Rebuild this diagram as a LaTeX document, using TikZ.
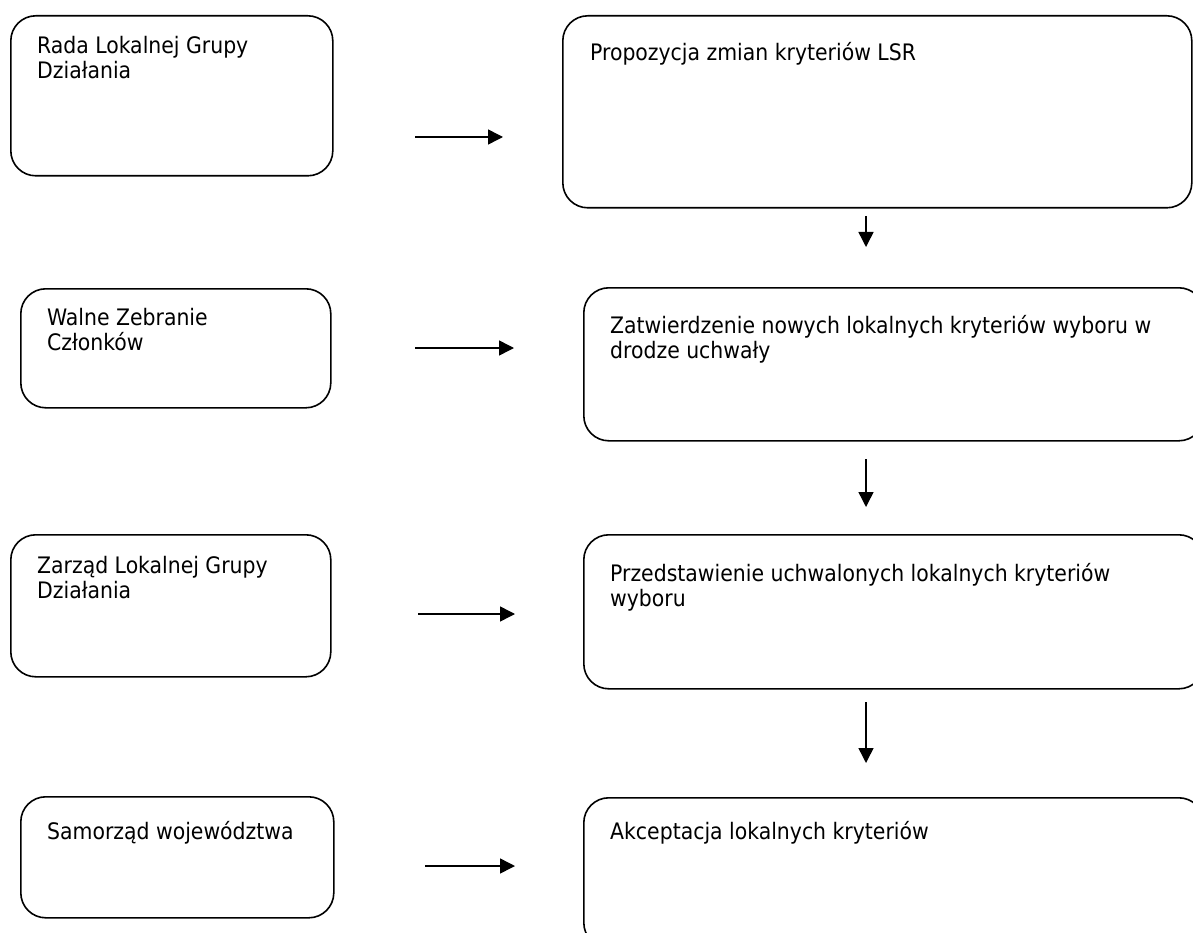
\documentclass[tikz,border=0pt]{standalone}
\usepackage{fontspec}
\setmainfont{DejaVu Sans Condensed}
\usetikzlibrary{arrows.meta,calc}
\tikzset{
  box/.style={draw=black, line width=1.6pt, rounded corners=25pt, inner sep=0pt},
  txt/.style={anchor=north west, inner sep=0pt, align=left, font=\fontsize{22.7}{25}\selectfont},
  flow/.style={line width=1.5pt, -{Triangle[length=15pt,width=15pt]}}
}
\begin{document}
\begin{tikzpicture}[x=1pt,y=-1pt]
\clip (0,0) rectangle (1193,933);
\fill[white] (0,0) rectangle (1193,933);
% left boxes
\node[box, minimum width=322pt, minimum height=160pt, anchor=north west] (L1) at (10,15) {};
\node[box, minimum width=310pt, minimum height=119pt, anchor=north west] (L2) at (20,288) {};
\node[box, minimum width=320pt, minimum height=142pt, anchor=north west] (L3) at (10,534) {};
\node[box, minimum width=313pt, minimum height=121pt, anchor=north west] (L4) at (20,796) {};
% right boxes
\node[box, minimum width=629pt, minimum height=192pt, anchor=north west] (R1) at (562,15) {};
\node[box, minimum width=620pt, minimum height=153pt, anchor=north west] (R2) at (583,287) {};
\node[box, minimum width=620pt, minimum height=154pt, anchor=north west] (R3) at (583,534) {};
\node[box, minimum width=620pt, minimum height=150pt, anchor=north west] (R4) at (583,797) {};
% texts
\node[txt] (tL1) at ($(L1.north west)+(27,21)$) {Rada Lokalnej Grupy\\Działania};
\node[txt] (tL2) at ($(L2.north west)+(27,20)$) {Walne Zebranie\\Członków};
\node[txt] (tL3) at ($(L3.north west)+(27,22)$) {Zarząd Lokalnej Grupy\\Działania};
\node[txt] (tL4) at ($(L4.north west)+(27,25)$) {Samorząd województwa};
\node[txt] (tR1) at ($(R1.north west)+(28,27)$) {Propozycja zmian kryteriów LSR};
\node[txt] (tR2) at ($(R2.north west)+(27,28)$) {Zatwierdzenie nowych lokalnych kryteriów wyboru w\\drodze uchwały};
\node[txt] (tR3) at ($(R3.north west)+(27,29)$) {Przedstawienie uchwalonych lokalnych kryteriów\\wyboru};
\node[txt] (tR4) at ($(R4.north west)+(27,24)$) {Akceptacja lokalnych kryteriów};
% arrow end points
\coordinate (h1s) at (415,137); \coordinate (h1e) at (503,137);
\coordinate (h2s) at (415,348); \coordinate (h2e) at (514,348);
\coordinate (h3s) at (418,614); \coordinate (h3e) at (515,614);
\coordinate (h4s) at (425,866); \coordinate (h4e) at (515,866);
\coordinate (v1s) at (866,216); \coordinate (v1e) at (866,247);
\coordinate (v2s) at (866,459); \coordinate (v2e) at (866,507);
\coordinate (v3s) at (866,702); \coordinate (v3e) at (866,763);
\draw[flow] (h1s) -- (h1e);
\draw[flow] (h2s) -- (h2e);
\draw[flow] (h3s) -- (h3e);
\draw[flow] (h4s) -- (h4e);
\draw[flow] (v1s) -- (v1e);
\draw[flow] (v2s) -- (v2e);
\draw[flow] (v3s) -- (v3e);
\end{tikzpicture}
\end{document}
